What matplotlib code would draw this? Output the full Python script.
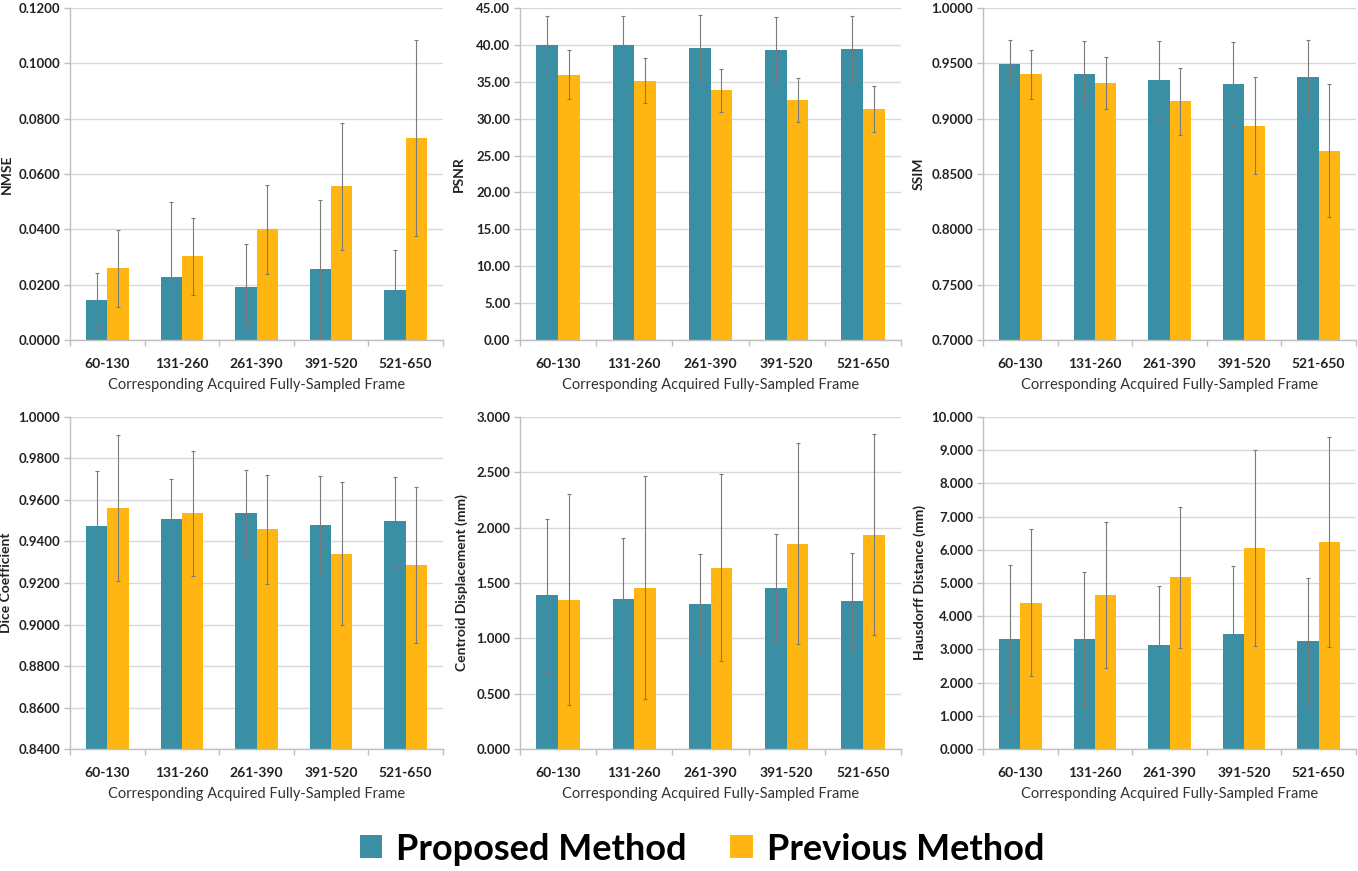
import numpy as np
import matplotlib
matplotlib.use("Agg")
import matplotlib.pyplot as plt
from matplotlib.ticker import FormatStrFormatter, FixedLocator

plt.rcParams['font.family'] = ['Lato', 'DejaVu Sans']

# ---- data -------------------------------------------------------------
frames = ["60-130", "131-260", "261-390", "391-520", "521-650"]
series_names = ["Proposed Method", "Previous Method"]

nmse_prop = [0.0145, 0.0227, 0.0193, 0.0256, 0.0181]
nmse_prop_sd = [0.0096, 0.0271, 0.0153, 0.0249, 0.0143]
nmse_prev = [0.0259, 0.0302, 0.0400, 0.0555, 0.0730]
nmse_prev_sd = [0.0138, 0.0138, 0.0162, 0.0229, 0.0354]

psnr_prop = [40.02, 39.93, 39.57, 39.35, 39.48]
psnr_prop_sd = [3.96, 4.05, 4.50, 4.45, 4.50]
psnr_prev = [35.95, 35.14, 33.83, 32.47, 31.30]
psnr_prev_sd = [3.30, 3.05, 2.96, 2.98, 3.10]

ssim_prop = [0.9497, 0.9406, 0.9352, 0.9312, 0.9372]
ssim_prop_sd = [0.0210, 0.0300, 0.0350, 0.0380, 0.0340]
ssim_prev = [0.9400, 0.9322, 0.9157, 0.8937, 0.8712]
ssim_prev_sd = [0.0223, 0.0235, 0.0303, 0.0436, 0.0603]

dice_prop = [0.9474, 0.9508, 0.9536, 0.9481, 0.9497]
dice_prop_sd = [0.0266, 0.0192, 0.0208, 0.0234, 0.0214]
dice_prev = [0.9561, 0.9535, 0.9458, 0.9342, 0.9286]
dice_prev_sd = [0.0352, 0.0300, 0.0262, 0.0345, 0.0376]

cent_prop = [1.389, 1.358, 1.313, 1.455, 1.334]
cent_prop_sd = [0.690, 0.545, 0.447, 0.490, 0.440]
cent_prev = [1.349, 1.458, 1.636, 1.855, 1.937]
cent_prev_sd = [0.955, 1.010, 0.845, 0.910, 0.905]

haus_prop = [3.323, 3.313, 3.122, 3.474, 3.243]
haus_prop_sd = [2.220, 2.020, 1.800, 2.040, 1.920]
haus_prev = [4.408, 4.628, 5.171, 6.054, 6.225]
haus_prev_sd = [2.220, 2.200, 2.130, 2.940, 3.160]

panels = [
    ("NMSE", nmse_prop, nmse_prop_sd, nmse_prev, nmse_prev_sd, 0.0, 0.12, 0.02, "%.4f"),
    ("PSNR", psnr_prop, psnr_prop_sd, psnr_prev, psnr_prev_sd, 0.0, 45.0, 5.0, "%.2f"),
    ("SSIM", ssim_prop, ssim_prop_sd, ssim_prev, ssim_prev_sd, 0.70, 1.0, 0.05, "%.4f"),
    ("Dice Coefficient", dice_prop, dice_prop_sd, dice_prev, dice_prev_sd, 0.84, 1.0, 0.02, "%.4f"),
    ("Centroid Displacement (mm)", cent_prop, cent_prop_sd, cent_prev, cent_prev_sd, 0.0, 3.0, 0.5, "%.3f"),
    ("Hausdorff Distance (mm)", haus_prop, haus_prop_sd, haus_prev, haus_prev_sd, 0.0, 10.0, 1.0, "%.3f"),
]

# ---- style ------------------------------------------------------------
TEAL = "#3A8FA5"
GOLD = "#FFB612"
GRID = "#D9D9D9"
AXIS = "#BFBFBF"
ERR = "#7A7A7A"

W, H = 1358, 871
fig = plt.figure(figsize=(W / 100, H / 100), dpi=100)

# plot-area rectangles in pixels: (left, right, top, bottom), plus y-label x position
rects = [
    (70, 443, 8, 340, 13), (520, 901, 8, 340, 465), (983, 1356, 8, 340, 925),
    (70, 443, 417, 749, 12), (520, 901, 417, 749, 468), (983, 1356, 417, 749, 926),
]

x = np.arange(len(frames))
bw = 1 / 3.5

handles = None
for (ylabel, p, psd, q, qsd, y0, y1, step, fmt), (l, r, t, b, lx) in zip(panels, rects):
    ax = fig.add_axes([l / W, 1 - b / H, (r - l) / W, (b - t) / H])
    ekw = dict(ecolor=ERR, elinewidth=0.8, capsize=1.5, capthick=0.8)
    h1 = ax.bar(x - bw / 2, p, bw, color=TEAL, yerr=psd, error_kw=ekw, zorder=2)
    h2 = ax.bar(x + bw / 2, q, bw, color=GOLD, yerr=qsd, error_kw=ekw, zorder=2)
    handles = [h1, h2]
    ax.set_xlim(-0.5, len(frames) - 0.5)
    ax.set_ylim(y0, y1)
    ax.set_yticks(np.arange(y0, y1 + step / 2, step))
    ax.yaxis.set_major_formatter(FormatStrFormatter(fmt))
    ax.grid(axis="y", color=GRID, lw=1.0, zorder=0)
    ax.set_axisbelow(True)
    for s in ("top", "right"):
        ax.spines[s].set_visible(False)
    for s in ("left", "bottom"):
        ax.spines[s].set_color(AXIS)
        ax.spines[s].set_linewidth(1.0)
    ax.set_xticks(x)
    ax.set_xticklabels(frames, fontsize=10, fontweight="bold", color="#222222")
    ax.tick_params(axis="x", which="major", length=0, pad=13)
    ax.xaxis.set_minor_locator(FixedLocator(np.arange(-0.5, len(frames), 1.0)))
    ax.tick_params(axis="x", which="minor", length=4, color=AXIS, width=1.0)
    ax.tick_params(axis="y", length=4, color=AXIS, width=1.0, labelsize=9.5,
                   labelcolor="#222222", pad=3)
    for lab in ax.get_yticklabels():
        lab.set_fontweight("bold")
    ax.set_ylabel(ylabel, fontsize=10, fontweight="bold", color="#222222")
    ax.yaxis.set_label_coords((lx - l) / (r - l), 0.5)
    ax.set_xlabel("Corresponding Acquired Fully-Sampled Frame", fontsize=10.5,
                  color="#333333", labelpad=6)

fig.legend(handles, series_names, loc="center", bbox_to_anchor=(0.517, 1 - 849 / H),
           ncol=2, frameon=False, handlelength=0.62, handleheight=0.62,
           handletextpad=0.4, columnspacing=1.2,
           prop=dict(size=26, weight="bold"))

fig.savefig("out.png", dpi=100)
